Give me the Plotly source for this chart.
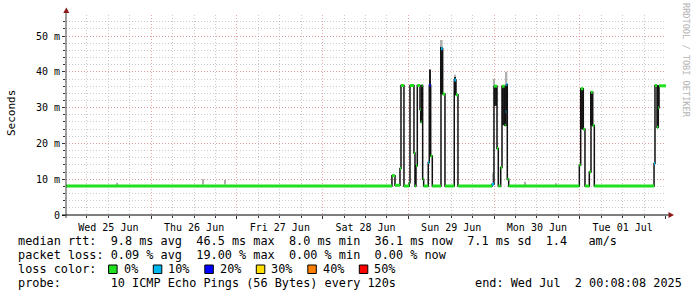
import plotly.graph_objects as go
import pandas as pd

START = "2025-06-25 00:08:08"
END = "2025-07-02 00:08:08"

# median RTT (ms) as a step series: each value holds from its time until the next one
med_time = [
    "2025-06-25 00:08:08", "2025-06-28 19:24", "2025-06-28 20:15", "2025-06-28 21:39",
    "2025-06-28 21:56", "2025-06-28 22:46", "2025-06-29 00:15", "2025-06-29 00:27",
    "2025-06-29 01:34", "2025-06-29 01:51", "2025-06-29 02:08", "2025-06-29 02:30",
    "2025-06-29 03:15", "2025-06-29 03:27", "2025-06-29 03:43", "2025-06-29 04:00",
    "2025-06-29 04:17", "2025-06-29 05:34", "2025-06-29 05:51", "2025-06-29 06:15",
    "2025-06-29 06:42", "2025-06-29 09:08", "2025-06-29 09:36", "2025-06-29 10:15",
    "2025-06-29 12:51", "2025-06-29 13:20", "2025-06-29 13:53", "2025-06-29 23:25",
    "2025-06-29 23:58", "2025-06-30 00:49", "2025-06-30 01:11", "2025-06-30 01:51",
    "2025-06-30 02:13", "2025-06-30 02:58", "2025-06-30 03:15", "2025-06-30 03:25",
    "2025-06-30 03:42", "2025-06-30 04:05", "2025-06-30 23:52", "2025-07-01 00:15",
    "2025-07-01 00:59", "2025-07-01 01:27", "2025-07-01 02:40", "2025-07-01 03:08",
    "2025-07-01 03:37", "2025-07-01 04:04", "2025-07-01 20:47", "2025-07-01 21:03",
    "2025-07-01 21:37", "2025-07-01 21:59", "2025-07-01 22:11",
]
med_ms = [
    8.1, 11.0, 8.3, 13.0,
    36.2, 8.1, 9.0, 36.2,
    17.3, 8.1, 13.8, 36.2,
    29.5, 26.0, 36.2, 10.0,
    8.1, 14.7, 36.3, 16.5,
    8.1, 46.5, 33.8, 8.1,
    37.7, 33.6, 8.1, 8.6,
    36.0, 18.6, 8.1, 13.3,
    36.0, 25.1, 28.9, 36.5,
    10.0, 8.1, 14.0, 35.3,
    24.0, 8.1, 12.0, 34.3,
    25.0, 8.1, 14.4, 36.2,
    24.5, 30.0, 36.1,
]
med_loss = [
    0, 0, 0, 0,
    0, 0, 0, 0,
    0, 0, 0, 0,
    0, 0, 0, 0,
    0, 10, 20, 0,
    0, 10, 0, 0,
    10, 0, 0, 10,
    0, 0, 0, 0,
    0, 0, 10, 10,
    0, 0, 0, 0,
    0, 0, 0, 0,
    0, 0, 10, 0,
    0, 0, 0,
]

# smoke (spread of the individual pings)
dark_start = ["2025-06-29 05:51", "2025-06-29 09:08", "2025-06-29 12:51", "2025-06-29 23:58",
              "2025-06-30 02:13", "2025-07-01 00:15", "2025-07-01 03:08", "2025-07-01 21:37"]
dark_end = ["2025-06-29 06:15", "2025-06-29 09:36", "2025-06-29 13:20", "2025-06-30 00:49",
            "2025-06-30 03:15", "2025-07-01 00:59", "2025-07-01 03:37", "2025-07-01 22:11"]
dark_lo = [16.5, 33.8, 33.6, 30.5, 25.1, 24.0, 25.0, 24.5]
dark_hi = [40.7, 47.0, 38.6, 36.3, 36.0, 35.3, 34.3, 36.2]

light_start = ["2025-06-25 14:22", "2025-06-26 14:27", "2025-06-26 20:31", "2025-06-29 23:34",
               "2025-06-29 09:08", "2025-06-29 12:51", "2025-06-29 23:58", "2025-06-30 03:15",
               "2025-06-30 08:36", "2025-06-30 17:07"]
light_end = ["2025-06-25 14:39", "2025-06-26 14:44", "2025-06-26 20:48", "2025-06-29 23:58",
             "2025-06-29 09:36", "2025-06-29 13:20", "2025-06-30 00:15", "2025-06-30 03:42",
             "2025-06-30 08:53", "2025-06-30 17:24"]
light_lo = [8.5, 8.5, 8.5, 9.0, 47.0, 38.6, 36.3, 36.8, 8.4, 8.3]
light_hi = [9.0, 10.0, 9.8, 11.7, 48.9, 39.2, 38.0, 40.0, 9.3, 8.9]

loss_levels = [0, 10, 20, 30, 40, 50]
loss_colors = ["#20e020", "#00b8f0", "#0000ff", "#ffe000", "#ff8000", "#ff0000"]

y_tickvals = [0, 10, 20, 30, 40, 50]
y_ticktext = ["0", "10 m", "20 m", "30 m", "40 m", "50 m"]

legend_rows = [
    "median rtt:  9.8 ms avg  46.5 ms max  8.0 ms min  36.1 ms now  7.1 ms sd  1.4   am/s",
    "packet loss: 0.09 % avg  19.00 % max  0.00 % min  0.00 % now",
    "loss color:",
    "probe:       10 ICMP Echo Pings (56 Bytes) every 120s",
]
end_text = "end: Wed Jul  2 00:08:08 2025"
y_title = "Seconds"
watermark = "RRDTOOL / TOBI OETIKER"

FONT = "DejaVu Sans Mono"

# pixel helpers (plot area 66..666 x, 15..215 y)
def px(x):
    return (x - 66) / 600.0

def py(y):
    return (215 - y) / 200.0


def smoke_bar(s, e, lo, hi, color):
    s = pd.to_datetime(pd.Series(s))
    e = pd.to_datetime(pd.Series(e))
    mid = (s + (e - s) / 2).dt.strftime("%Y-%m-%d %H:%M:%S").tolist()
    width = [(b - a).total_seconds() * 1000 for a, b in zip(s, e)]
    return go.Bar(x=mid, y=[h - l for l, h in zip(lo, hi)], base=lo, width=width,
                  marker=dict(color=color, line=dict(width=0)), hoverinfo="skip")


fig = go.Figure()
fig.add_trace(smoke_bar(light_start, light_end, light_lo, light_hi, "#b0b0b0"))
fig.add_trace(smoke_bar(dark_start, dark_end, dark_lo, dark_hi, "#1e1e1e"))

# black step connection (vertical transitions)
fig.add_trace(go.Scatter(x=med_time + [END], y=med_ms + [med_ms[-1]], mode="lines",
                         line=dict(color="#111111", width=1.5, shape="hv"), hoverinfo="skip"))

# colored horizontal median segments
ends = med_time[1:] + [END]
for lvl, col in zip(loss_levels, loss_colors):
    xs, ys = [], []
    for t0, t1, v, l in zip(med_time, ends, med_ms, med_loss):
        if l == lvl:
            xs += [t0, t1, None]
            ys += [v, v, None]
    if xs:
        fig.add_trace(go.Scatter(x=xs, y=ys, mode="lines",
                                 line=dict(color=col, width=3), hoverinfo="skip"))

MAJ = "rgba(230,130,130,0.7)"
MIN = "rgba(175,175,175,0.65)"
DASH = "1px,2px"

fig.update_layout(
    width=697, height=297,
    margin=dict(l=66, r=31, t=15, b=82, autoexpand=False),
    paper_bgcolor="white", plot_bgcolor="white",
    showlegend=False, barmode="overlay",
    font=dict(family=FONT, size=10, color="black"),
    xaxis=dict(
        type="date", range=[START, END],
        tick0="2025-06-25", dtick=86400000, ticklabelmode="period",
        tickformat="%a %d %b",
        showgrid=True, gridcolor=MAJ, griddash=DASH, gridwidth=1,
        ticks="outside", ticklen=3, tickcolor="#333",
        minor=dict(dtick=6 * 3600000, tick0="2025-06-25", showgrid=True,
                   gridcolor=MIN, griddash=DASH, ticks="outside", ticklen=2,
                   tickcolor="#333"),
        showline=False, zeroline=False,
        tickfont=dict(family=FONT, size=10, color="black"),
    ),
    yaxis=dict(
        range=[0, 55.9], tickvals=y_tickvals, ticktext=y_ticktext,
        showgrid=True, gridcolor=MAJ, griddash=DASH,
        ticks="outside", ticklen=3, tickcolor="#333",
        minor=dict(dtick=2, tick0=0, showgrid=True, gridcolor=MIN, griddash=DASH,
                   ticks="outside", ticklen=2, tickcolor="#333"),
        showline=False, zeroline=False,
        tickfont=dict(family=FONT, size=10, color="black"),
    ),
)

shapes = [
    dict(type="line", xref="paper", yref="paper", x0=px(66), x1=px(66), y0=py(218), y1=py(10),
         line=dict(color="#404040", width=1), layer="above"),
    dict(type="line", xref="paper", yref="paper", x0=px(62), x1=px(669), y0=py(215), y1=py(215),
         line=dict(color="#000000", width=1), layer="above"),
    dict(type="path", xref="paper", yref="paper",
         path=f"M {px(63.3)},{py(13)} L {px(69.3)},{py(13)} L {px(66.3)},{py(7.5)} Z",
         fillcolor="#8b1a1a", line=dict(width=0), layer="above"),
    dict(type="path", xref="paper", yref="paper",
         path=f"M {px(668.5)},{py(212)} L {px(668.5)},{py(218)} L {px(674)},{py(215)} Z",
         fillcolor="#8b1a1a", line=dict(width=0), layer="above"),
]

box_left = [108.6, 153.3, 204.8, 256.3, 307.8, 359.3]
for bx, col in zip(box_left, loss_colors):
    shapes.append(dict(type="rect", xref="paper", yref="paper",
                       x0=px(bx), x1=px(bx + 8.5), y0=py(273.5), y1=py(265),
                       fillcolor=col, line=dict(color="black", width=1)))
fig.update_layout(shapes=shapes)

NB = "\u00a0"
annos = []
row_y = [241, 255, 269, 283]
for txt, yy in zip(legend_rows, row_y):
    annos.append(dict(text=txt.replace(" ", NB), x=px(15.5), y=py(yy), xref="paper", yref="paper",
                      xanchor="left", yanchor="middle", showarrow=False,
                      font=dict(family=FONT, size=11.85, color="black")))
for bx, lvl in zip(box_left, loss_levels):
    annos.append(dict(text=f"{lvl}%", x=px(bx + 13), y=py(269), xref="paper", yref="paper",
                      xanchor="left", yanchor="middle", showarrow=False,
                      font=dict(family=FONT, size=11.85, color="black")))
annos.append(dict(text=end_text.replace(" ", NB), x=px(684), y=py(283), xref="paper", yref="paper",
                  xanchor="right", yanchor="middle", showarrow=False,
                  font=dict(family=FONT, size=11.85, color="black")))
annos.append(dict(text=y_title, x=px(11), y=py(113), xref="paper", yref="paper",
                  xanchor="center", yanchor="middle", textangle=-90, showarrow=False,
                  font=dict(family=FONT, size=11, color="black")))
annos.append(dict(text=watermark, x=px(686), y=py(60), xref="paper", yref="paper",
                  xanchor="center", yanchor="middle", textangle=90, showarrow=False,
                  font=dict(family=FONT, size=8.6, color="#b4b4b4")))
fig.update_layout(annotations=annos)

fig.write_html("out.html")
